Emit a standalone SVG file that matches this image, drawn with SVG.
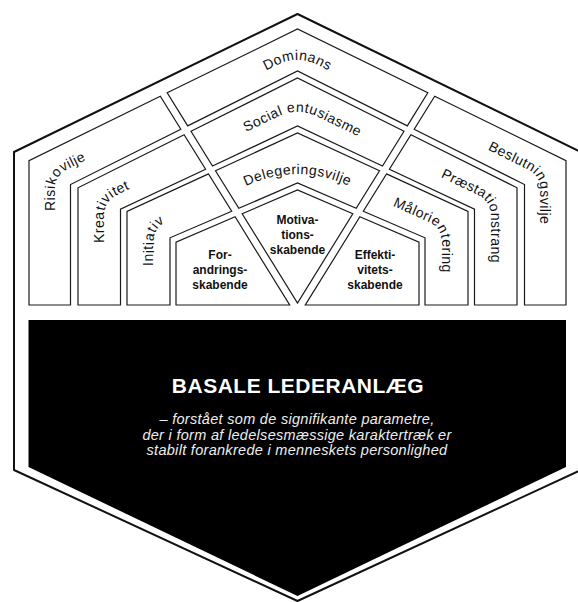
<svg xmlns="http://www.w3.org/2000/svg" width="578" height="602" viewBox="0 0 578 602">
<style>
.box{fill:#fff;stroke:#1a1a1a;stroke-width:1.2;stroke-linejoin:miter}
.lbl{font-family:"Liberation Sans",Arial,sans-serif;font-size:14px;fill:#111;letter-spacing:0.5px}
.ctr{font-family:"Liberation Sans",Arial,sans-serif;font-size:12px;font-weight:bold;fill:#111;text-anchor:middle}
.title{font-family:"Liberation Sans",Arial,sans-serif;font-size:21px;font-weight:bold;fill:#fff;text-anchor:middle;letter-spacing:0.5px}
.sub{font-family:"Liberation Sans",Arial,sans-serif;font-size:14.5px;font-style:italic;fill:#eee;text-anchor:middle;letter-spacing:0.3px}
</style>
<defs>
<path id="p-dom" d="M 207.5 99.6 L 277.5 64.9 Q 297.5 55 317.5 64.9 L 387.5 99.6"/>
<path id="p-soc" d="M 207.5 150.65 L 277.5 116.7 Q 297.5 107 317.5 116.7 L 387.5 150.65"/>
<path id="p-del" d="M 207.5 203 L 247.5 185.25 Q 297.5 163 347.5 185.25 L 387.5 203"/>
<path id="p-ris" d="M 54.75 214 L 54.75 189.7 Q 54.75 175.7 67.75 169.2 L 157.5 124.8"/>
<path id="p-kre" d="M 104.25 248 L 104.25 215.2 Q 104.25 201.2 117.25 194.9 L 187.5 160.85"/>
<path id="p-ini" d="M 153.5 270 L 153.5 241.6 Q 153.5 227.6 166.5 221.8 L 217.5 199.1"/>
<path id="p-bes" d="M 487.5 149.5 L 527.25 169.2 Q 540.25 175.7 540.25 189.7 L 540.25 300"/>
<path id="p-pra" d="M 440.5 176.9 L 477.75 194.9 Q 490.75 201.2 490.75 215.2 L 490.75 300"/>
<path id="p-mal" d="M 392.5 205.8 L 428.5 221.8 Q 441.5 227.6 441.5 241.6 L 441.5 300"/>
</defs>
<rect width="578" height="602" fill="#fff"/>
<g id="frame">
<polygon points="297.5,14 581,152 581,470 297.5,601 14,470 14,152" fill="#fff" stroke="#111" stroke-width="2" stroke-linejoin="round"/>
</g>
<g id="basale">
<polygon points="28.5,320 566,320 566,467 297.5,596 28.5,467" fill="#000"/>
<text class="title" x="298" y="393">BASALE LEDERANLÆG</text>
<text class="sub" x="297" y="424">– forstået som de signifikante parametre,</text>
<text class="sub" x="297" y="440">der i form af ledelsesmæssige karaktertræk er</text>
<text class="sub" x="297" y="455">stabilt forankrede i menneskets personlighed</text>
</g>
<g id="dominans">
<polygon class="box" points="167.2,92.8 297.5,29 427.8,92.8 407.3,125.9 297.5,71 187.7,125.9"/>
<text class="lbl"><textPath href="#p-dom" startOffset="50%" text-anchor="middle">Dominans</textPath></text>
</g>
<g id="social-entusiasme">
<polygon class="box" points="191,131.2 297.5,78 404,131.2 382.5,166 297.5,126 212.5,166"/>
<text class="lbl"><textPath href="#p-soc" startOffset="104" text-anchor="middle">Social entusiasme</textPath></text>
</g>
<g id="delegeringsvilje">
<polygon class="box" points="215.5,170.7 297.5,133 379.5,170.7 356.2,208.3 297.5,183 238.8,208.3"/>
<text class="lbl"><textPath href="#p-del" startOffset="50%" text-anchor="middle">Delegeringsvilje</textPath></text>
</g>
<g id="motivationsskabende">
<polygon class="box" points="242.2,213.8 297.5,190 352.8,213.8 297.5,303"/>
<text class="ctr" x="297.5" y="224.3">Motiva-</text>
<text class="ctr" x="297.5" y="239.3">tions-</text>
<text class="ctr" x="297.5" y="253.6">skabende</text>
</g>
<g id="risikovilje">
<polygon class="box" points="160.3,96.2 29,160.6 29,305 70.5,305 70.5,184.5 180.8,129.3"/>
<text class="lbl"><textPath href="#p-ris" startOffset="3">Risikovilje</textPath></text>
</g>
<g id="kreativitet">
<polygon class="box" points="184.1,134.7 78,187.75 78,305 120.5,305 120.5,209.2 205.6,169.2"/>
<text class="lbl"><textPath href="#p-kre" startOffset="5">Kreativitet</textPath></text>
</g>
<g id="initiativ">
<polygon class="box" points="208.5,173.9 127,211.4 127,305 170,305 170,237.8 231.7,211.3"/>
<text class="lbl"><textPath href="#p-ini" startOffset="4">Initiativ</textPath></text>
</g>
<g id="forandringsskabende">
<polygon class="box" points="235.1,216.8 176,242.2 176,305 289.7,305"/>
<text class="ctr" x="220" y="259.3">For-</text>
<text class="ctr" x="220" y="274.3">andrings-</text>
<text class="ctr" x="220" y="288.6">skabende</text>
</g>
<g id="beslutningsvilje">
<polygon class="box" points="434.7,96.2 566,160.6 566,305 524.5,305 524.5,184.5 414.2,129.3"/>
<text class="lbl"><textPath href="#p-bes" startOffset="0">Beslutningsvilje</textPath></text>
</g>
<g id="praestationstrang">
<polygon class="box" points="410.9,134.7 517,187.75 517,305 474.5,305 474.5,209.2 389.4,169.2"/>
<text class="lbl"><textPath href="#p-pra" startOffset="0">Præstationstrang</textPath></text>
</g>
<g id="maalorientering">
<polygon class="box" points="386.5,173.9 468,211.4 468,305 425,305 425,237.8 363.3,211.3"/>
<text class="lbl"><textPath href="#p-mal" startOffset="0">Målorientering</textPath></text>
</g>
<g id="effektivitetsskabende">
<polygon class="box" points="359.9,216.8 419,242.2 419,305 305.3,305"/>
<text class="ctr" x="375" y="259.3">Effekti-</text>
<text class="ctr" x="375" y="274.3">vitets-</text>
<text class="ctr" x="375" y="288.6">skabende</text>
</g>
</svg>
